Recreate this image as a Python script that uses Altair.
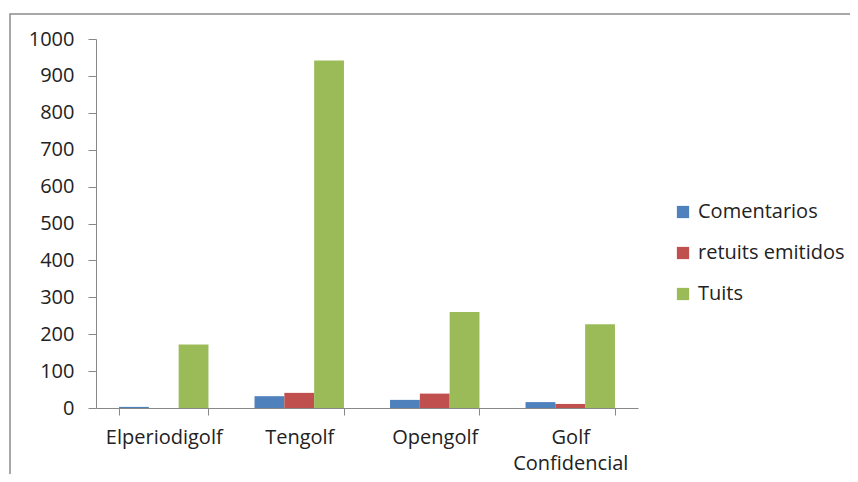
import altair as alt
import pandas as pd

categories = ["Elperiodigolf", "Tengolf", "Opengolf", "Golf Confidencial"]
series = ["Comentarios", "retuits emitidos", "Tuits"]
comentarios = [3, 32, 22, 16]
retuits = [0, 41, 39, 11]
tuits = [172, 942, 260, 227]
colors = ["#4F81BD", "#C0504D", "#9BBB59"]
y_ticks = [0, 100, 200, 300, 400, 500, 600, 700, 800, 900, 1000]

rows = []
for i, c in enumerate(categories):
    for s, vals in zip(series, [comentarios, retuits, tuits]):
        rows.append({"blog": c, "serie": s, "valor": vals[i]})
df = pd.DataFrame(rows)

FONT = "Open Sans"

frame = alt.Chart(pd.DataFrame({"a": [0]})).mark_rect(
    fill=None, stroke="#8c8c8c", strokeWidth=1.5
).encode(
    x=alt.value(-86), x2=alt.value(790), y=alt.value(-25), y2=alt.value(470)
)

bars = alt.Chart(df).mark_bar().encode(
    x=alt.X("blog:N", sort=categories, title=None,
            scale=alt.Scale(paddingInner=0.34, paddingOuter=0.17),
            axis=alt.Axis(labelAngle=0, tickBand="extent", tickSize=7,
                          labelPadding=12, labelFontSize=20, labelFont=FONT,
                          labelColor="#222", domainColor="#888", tickColor="#888",
                          labelLineHeight=26,
                          labelExpr="datum.label == 'Golf Confidencial' ? ['Golf', 'Confidencial'] : datum.label")),
    xOffset=alt.XOffset("serie:N", sort=series, scale=alt.Scale(paddingInner=0, paddingOuter=0)),
    y=alt.Y("valor:Q", title=None,
            scale=alt.Scale(domain=[0, 1000], nice=False),
            axis=alt.Axis(values=y_ticks, format="d", grid=False, tickSize=8, labelPadding=14,
                          labelFontSize=20, labelFont=FONT, labelColor="#222",
                          domainColor="#888", tickColor="#888")),
    color=alt.Color("serie:N", sort=series,
                    scale=alt.Scale(domain=series, range=colors),
                    legend=alt.Legend(title=None, orient="none", legendX=577, legendY=163,
                                      symbolType="square", symbolSize=150,
                                      symbolStrokeWidth=0, labelFontSize=20,
                                      labelFont=FONT, labelColor="#222",
                                      rowPadding=21, labelOffset=5)),
)

chart = alt.layer(frame, bars).properties(
    width=542, height=369,
    padding={"left": 88, "top": 31, "right": 212, "bottom": 66},
    autosize=alt.AutoSizeParams(type="none"),
    background="white",
).configure_view(stroke=None)

chart.save("out.html", embed_options={"renderer": "svg", "actions": False})
